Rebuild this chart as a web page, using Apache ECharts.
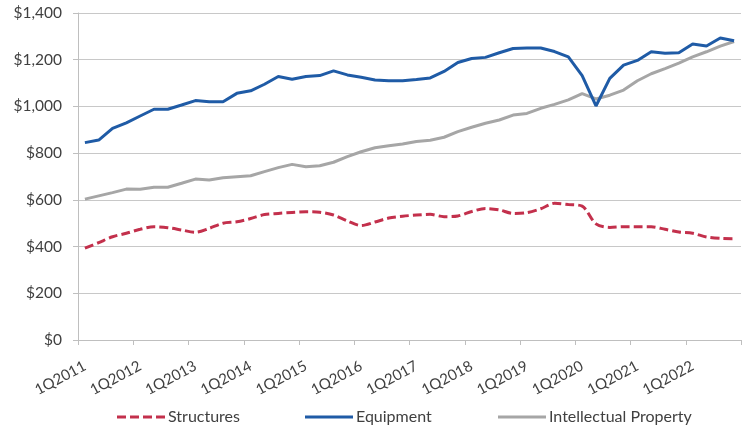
<!DOCTYPE html>
<html>
<head>
<meta charset="utf-8">
<title>Investment by type, quarterly</title>
<script src="https://cdn.jsdelivr.net/npm/echarts@6/dist/echarts.min.js"></script>
<style>
  html, body { margin: 0; padding: 0; background: #ffffff; }
  #chart { width: 747px; height: 432px; }
</style>
</head>
<body>
<div id="chart"></div>
<script>
// Quarter labels, 1Q2011 .. 4Q2022
const years = [2011, 2012, 2013, 2014, 2015, 2016, 2017, 2018, 2019, 2020, 2021, 2022];
const quarters = [];
years.forEach(y => { for (let q = 1; q <= 4; q++) quarters.push(q + 'Q' + y); });

// Series values, billions of dollars
const structures = [
  393, 417, 442, 457, 474, 485, 481, 471,
  461, 478, 500, 506, 520, 537, 542, 546,
  549, 547, 535, 510, 490, 505, 522, 530,
  535, 538, 528, 531, 550, 563, 557, 542,
  545, 562, 585, 580, 573, 497, 482, 485,
  485, 485, 474, 462, 457, 441, 435, 434
];
const equipment = [
  845, 856, 906, 930, 959, 988, 988, 1006,
  1025, 1020, 1020, 1056, 1067, 1095, 1128, 1116,
  1128, 1132, 1152, 1135, 1125, 1113, 1110, 1110,
  1115, 1122, 1150, 1188, 1205, 1210, 1230, 1248,
  1250, 1250, 1235, 1212, 1132, 1002, 1120, 1177,
  1197, 1234, 1228, 1230, 1267, 1259, 1293, 1281
];
const intellectual = [
  603, 617, 631, 646, 645, 654, 654, 671,
  689, 685, 695, 699, 703, 721, 738, 752,
  742, 746, 761, 785, 806, 823, 832, 839,
  850, 855, 868, 892, 911, 928, 942, 963,
  970, 992, 1009, 1028, 1055, 1032, 1048, 1070,
  1110, 1140, 1162, 1185, 1212, 1234, 1258, 1278
];

// Y axis ticks
const yMin = 0, yMax = 1400, yStep = 200;

const textColor = '#404040';
const fontFamily = 'Lato, "Liberation Sans", sans-serif';

const colors = {
  structures: '#c3304c',
  equipment: '#1f5ba6',
  intellectual: '#a6a6a6'
};

// Legend glyphs: a dashed stroke and a solid stroke
const dashedIcon = 'path://M0,0h9v3h-9z M13,0h9v3h-9z M26,0h9v3h-9z M39,0h9v3h-9z';
const solidIcon = 'path://M0,0h48v3h-48z';

const chart = echarts.init(document.getElementById('chart'), null, { renderer: 'canvas' });

function legendAt(name, icon, left) {
  return {
    data: [{ name: name, icon: icon }],
    left: left,
    top: 409,
    padding: 0,
    itemWidth: 48,
    itemHeight: 3,
    itemGap: 0,
    textStyle: { color: textColor, fontSize: 16, fontFamily: fontFamily, padding: [0, 0, 0, -2] },
    selectedMode: false
  };
}

chart.setOption({
  animation: false,
  backgroundColor: '#ffffff',
  textStyle: { fontFamily: fontFamily },
  grid: { left: 78, right: 6, top: 13, bottom: 92, containLabel: false },
  legend: [
    legendAt('Structures', dashedIcon, 117),
    legendAt('Equipment', solidIcon, 305),
    legendAt('Intellectual Property', solidIcon, 498)
  ],
  xAxis: {
    type: 'category',
    data: quarters,
    boundaryGap: true,
    axisLine: { lineStyle: { color: '#bfbfbf', width: 1 } },
    axisTick: { show: true, interval: 3, length: 5, lineStyle: { color: '#bfbfbf' } },
    axisLabel: {
      interval: 3,
      rotate: 28,
      margin: 25,
      color: textColor,
      fontSize: 15,
      fontFamily: fontFamily
    },
    splitLine: { show: false }
  },
  yAxis: {
    type: 'value',
    min: yMin,
    max: yMax,
    interval: yStep,
    axisLine: { show: true, lineStyle: { color: '#bfbfbf', width: 1 } },
    axisTick: { show: true, length: 5, lineStyle: { color: '#bfbfbf' } },
    axisLabel: {
      margin: 16,
      color: textColor,
      fontSize: 15.5,
      fontFamily: fontFamily,
      formatter: v => '$' + v.toLocaleString('en-US')
    },
    splitLine: { show: true, lineStyle: { color: '#c8c8c8', width: 1.2 } }
  },
  series: [
    {
      name: 'Structures',
      type: 'line',
      data: structures,
      symbol: 'none',
      smooth: 0.3,
      lineStyle: { color: colors.structures, width: 3, type: [9, 4] },
      itemStyle: { color: colors.structures },
      z: 3
    },
    {
      name: 'Equipment',
      type: 'line',
      data: equipment,
      symbol: 'none',
      lineStyle: { color: colors.equipment, width: 3 },
      itemStyle: { color: colors.equipment },
      z: 4
    },
    {
      name: 'Intellectual Property',
      type: 'line',
      data: intellectual,
      symbol: 'none',
      lineStyle: { color: colors.intellectual, width: 3 },
      itemStyle: { color: colors.intellectual },
      z: 2
    }
  ]
});
</script>
</body>
</html>
